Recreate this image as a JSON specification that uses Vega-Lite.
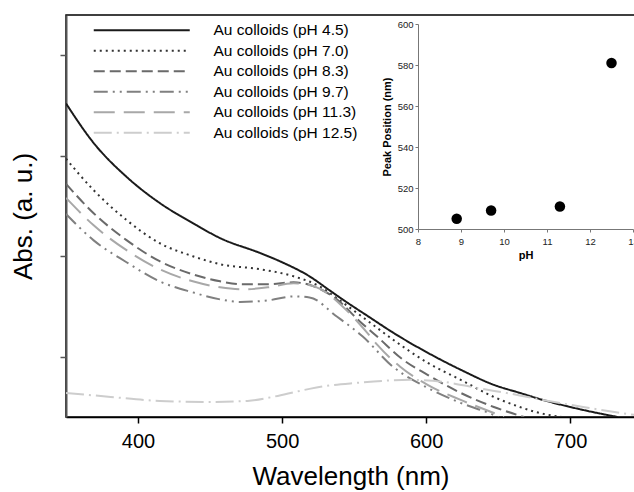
{
  "$schema": "https://vega.github.io/schema/vega-lite/v6.json",
  "width": 569,
  "height": 402,
  "autosize": {"type": "none"},
  "padding": {"left": 66, "top": 15, "right": 0, "bottom": 75},
  "background": "white",
  "config": {
    "font": "Liberation Sans",
    "view": {"stroke": "#000", "strokeWidth": 1.5}
  },
  "datasets": {
    "spectra": [
      {"s": "Au colloids (pH 4.5)", "w": 350, "a": 2.52},
      {"s": "Au colloids (pH 4.5)", "w": 369, "a": 2.13},
      {"s": "Au colloids (pH 4.5)", "w": 392, "a": 1.79},
      {"s": "Au colloids (pH 4.5)", "w": 415, "a": 1.53},
      {"s": "Au colloids (pH 4.5)", "w": 438, "a": 1.33},
      {"s": "Au colloids (pH 4.5)", "w": 457, "a": 1.18},
      {"s": "Au colloids (pH 4.5)", "w": 485, "a": 1.03},
      {"s": "Au colloids (pH 4.5)", "w": 500, "a": 0.94},
      {"s": "Au colloids (pH 4.5)", "w": 519, "a": 0.8},
      {"s": "Au colloids (pH 4.5)", "w": 533, "a": 0.66},
      {"s": "Au colloids (pH 4.5)", "w": 542, "a": 0.57},
      {"s": "Au colloids (pH 4.5)", "w": 561, "a": 0.39},
      {"s": "Au colloids (pH 4.5)", "w": 577, "a": 0.24},
      {"s": "Au colloids (pH 4.5)", "w": 601, "a": 0.04},
      {"s": "Au colloids (pH 4.5)", "w": 624, "a": -0.13},
      {"s": "Au colloids (pH 4.5)", "w": 647, "a": -0.28},
      {"s": "Au colloids (pH 4.5)", "w": 665, "a": -0.36},
      {"s": "Au colloids (pH 4.5)", "w": 681, "a": -0.43},
      {"s": "Au colloids (pH 4.5)", "w": 709, "a": -0.53},
      {"s": "Au colloids (pH 4.5)", "w": 733, "a": -0.6},
      {"s": "Au colloids (pH 7.0)", "w": 350, "a": 1.97},
      {"s": "Au colloids (pH 7.0)", "w": 369, "a": 1.66},
      {"s": "Au colloids (pH 7.0)", "w": 392, "a": 1.36},
      {"s": "Au colloids (pH 7.0)", "w": 415, "a": 1.13},
      {"s": "Au colloids (pH 7.0)", "w": 438, "a": 1.0},
      {"s": "Au colloids (pH 7.0)", "w": 457, "a": 0.92},
      {"s": "Au colloids (pH 7.0)", "w": 485, "a": 0.87},
      {"s": "Au colloids (pH 7.0)", "w": 508, "a": 0.8},
      {"s": "Au colloids (pH 7.0)", "w": 526, "a": 0.7},
      {"s": "Au colloids (pH 7.0)", "w": 542, "a": 0.54},
      {"s": "Au colloids (pH 7.0)", "w": 561, "a": 0.34},
      {"s": "Au colloids (pH 7.0)", "w": 577, "a": 0.17},
      {"s": "Au colloids (pH 7.0)", "w": 601, "a": -0.06},
      {"s": "Au colloids (pH 7.0)", "w": 624, "a": -0.23},
      {"s": "Au colloids (pH 7.0)", "w": 647, "a": -0.4},
      {"s": "Au colloids (pH 7.0)", "w": 665, "a": -0.5},
      {"s": "Au colloids (pH 7.0)", "w": 676, "a": -0.55},
      {"s": "Au colloids (pH 7.0)", "w": 694, "a": -0.6},
      {"s": "Au colloids (pH 8.3)", "w": 350, "a": 1.72},
      {"s": "Au colloids (pH 8.3)", "w": 369, "a": 1.43},
      {"s": "Au colloids (pH 8.3)", "w": 392, "a": 1.16},
      {"s": "Au colloids (pH 8.3)", "w": 415, "a": 0.95},
      {"s": "Au colloids (pH 8.3)", "w": 438, "a": 0.82},
      {"s": "Au colloids (pH 8.3)", "w": 457, "a": 0.75},
      {"s": "Au colloids (pH 8.3)", "w": 473, "a": 0.72},
      {"s": "Au colloids (pH 8.3)", "w": 490, "a": 0.72},
      {"s": "Au colloids (pH 8.3)", "w": 508, "a": 0.74},
      {"s": "Au colloids (pH 8.3)", "w": 522, "a": 0.7},
      {"s": "Au colloids (pH 8.3)", "w": 538, "a": 0.57},
      {"s": "Au colloids (pH 8.3)", "w": 554, "a": 0.35},
      {"s": "Au colloids (pH 8.3)", "w": 566, "a": 0.2},
      {"s": "Au colloids (pH 8.3)", "w": 584, "a": -0.03},
      {"s": "Au colloids (pH 8.3)", "w": 601, "a": -0.18},
      {"s": "Au colloids (pH 8.3)", "w": 624, "a": -0.36},
      {"s": "Au colloids (pH 8.3)", "w": 647, "a": -0.5},
      {"s": "Au colloids (pH 8.3)", "w": 668, "a": -0.6},
      {"s": "Au colloids (pH 9.7)", "w": 350, "a": 1.42},
      {"s": "Au colloids (pH 9.7)", "w": 369, "a": 1.16},
      {"s": "Au colloids (pH 9.7)", "w": 392, "a": 0.94},
      {"s": "Au colloids (pH 9.7)", "w": 415, "a": 0.75},
      {"s": "Au colloids (pH 9.7)", "w": 438, "a": 0.64},
      {"s": "Au colloids (pH 9.7)", "w": 457, "a": 0.57},
      {"s": "Au colloids (pH 9.7)", "w": 471, "a": 0.545},
      {"s": "Au colloids (pH 9.7)", "w": 490, "a": 0.56},
      {"s": "Au colloids (pH 9.7)", "w": 508, "a": 0.6},
      {"s": "Au colloids (pH 9.7)", "w": 519, "a": 0.59},
      {"s": "Au colloids (pH 9.7)", "w": 538, "a": 0.4},
      {"s": "Au colloids (pH 9.7)", "w": 556, "a": 0.2},
      {"s": "Au colloids (pH 9.7)", "w": 577, "a": -0.1},
      {"s": "Au colloids (pH 9.7)", "w": 601, "a": -0.31},
      {"s": "Au colloids (pH 9.7)", "w": 624, "a": -0.46},
      {"s": "Au colloids (pH 9.7)", "w": 647, "a": -0.58},
      {"s": "Au colloids (pH 9.7)", "w": 650, "a": -0.6},
      {"s": "Au colloids (pH 11.3)", "w": 350, "a": 1.58},
      {"s": "Au colloids (pH 11.3)", "w": 369, "a": 1.31},
      {"s": "Au colloids (pH 11.3)", "w": 392, "a": 1.06},
      {"s": "Au colloids (pH 11.3)", "w": 415, "a": 0.87},
      {"s": "Au colloids (pH 11.3)", "w": 438, "a": 0.75},
      {"s": "Au colloids (pH 11.3)", "w": 457, "a": 0.69},
      {"s": "Au colloids (pH 11.3)", "w": 473, "a": 0.67},
      {"s": "Au colloids (pH 11.3)", "w": 490, "a": 0.69},
      {"s": "Au colloids (pH 11.3)", "w": 508, "a": 0.73},
      {"s": "Au colloids (pH 11.3)", "w": 524, "a": 0.69},
      {"s": "Au colloids (pH 11.3)", "w": 542, "a": 0.5},
      {"s": "Au colloids (pH 11.3)", "w": 559, "a": 0.24},
      {"s": "Au colloids (pH 11.3)", "w": 566, "a": 0.12},
      {"s": "Au colloids (pH 11.3)", "w": 582, "a": -0.1},
      {"s": "Au colloids (pH 11.3)", "w": 601, "a": -0.28},
      {"s": "Au colloids (pH 11.3)", "w": 624, "a": -0.43},
      {"s": "Au colloids (pH 11.3)", "w": 647, "a": -0.56},
      {"s": "Au colloids (pH 11.3)", "w": 654, "a": -0.6},
      {"s": "Au colloids (pH 12.5)", "w": 350, "a": -0.36},
      {"s": "Au colloids (pH 12.5)", "w": 381, "a": -0.4},
      {"s": "Au colloids (pH 12.5)", "w": 415, "a": -0.44},
      {"s": "Au colloids (pH 12.5)", "w": 450, "a": -0.45},
      {"s": "Au colloids (pH 12.5)", "w": 476, "a": -0.44},
      {"s": "Au colloids (pH 12.5)", "w": 497, "a": -0.39},
      {"s": "Au colloids (pH 12.5)", "w": 519, "a": -0.32},
      {"s": "Au colloids (pH 12.5)", "w": 531, "a": -0.29},
      {"s": "Au colloids (pH 12.5)", "w": 552, "a": -0.26},
      {"s": "Au colloids (pH 12.5)", "w": 570, "a": -0.24},
      {"s": "Au colloids (pH 12.5)", "w": 589, "a": -0.23},
      {"s": "Au colloids (pH 12.5)", "w": 612, "a": -0.25},
      {"s": "Au colloids (pH 12.5)", "w": 635, "a": -0.31},
      {"s": "Au colloids (pH 12.5)", "w": 665, "a": -0.385},
      {"s": "Au colloids (pH 12.5)", "w": 681, "a": -0.43},
      {"s": "Au colloids (pH 12.5)", "w": 709, "a": -0.5},
      {"s": "Au colloids (pH 12.5)", "w": 733, "a": -0.555},
      {"s": "Au colloids (pH 12.5)", "w": 745, "a": -0.58}
    ],
    "peaks": [
      {"ph": 8.9, "peak": 505},
      {"ph": 9.7, "peak": 509},
      {"ph": 11.3, "peak": 511},
      {"ph": 12.5, "peak": 581}
    ]
  },
  "layer": [
    {
      "data": {"name": "spectra"},
      "mark": {"type": "line", "strokeWidth": 2, "clip": true, "interpolate": "monotone"},
      "encoding": {
        "x": {
          "field": "w", "type": "quantitative",
          "scale": {"domain": [350, 745], "nice": false, "zero": false},
          "axis": {
            "values": [400, 500, 600, 700], "title": "Wavelength (nm)",
            "titleFontSize": 26, "titleFontWeight": "normal", "titleColor": "#000",
            "labelFontSize": 20, "labelColor": "#000", "labelFlush": false,
            "tickSize": 6, "tickColor": "#000", "tickWidth": 1.5,
            "domainColor": "#000", "domainWidth": 1.5,
            "labelPadding": 8, "titlePadding": 12, "grid": false
          }
        },
        "y": {
          "field": "a", "type": "quantitative",
          "scale": {"domain": [-0.6, 3.4], "nice": false, "zero": false},
          "axis": {
            "values": [0, 1, 2, 3], "labels": false, "title": "Abs. (a. u.)",
            "titleFontSize": 26, "titleFontWeight": "normal", "titleColor": "#000",
            "tickSize": 6, "tickColor": "#555", "tickWidth": 1.5,
            "domainColor": "#555", "domainWidth": 2,
            "titlePadding": 23, "grid": false
          }
        },
        "color": {
          "field": "s", "type": "nominal",
          "scale": {
            "domain": ["Au colloids (pH 4.5)", "Au colloids (pH 7.0)", "Au colloids (pH 8.3)", "Au colloids (pH 9.7)", "Au colloids (pH 11.3)", "Au colloids (pH 12.5)"],
            "range": ["#1a1a1a", "#333333", "#6a6a6a", "#808080", "#a8a8a8", "#cdcdcd"]
          },
          "legend": {
            "title": null, "orient": "none", "legendX": 68, "legendY": 7.5,
            "symbolType": "M-16,0H16", "symbolSize": 36, "symbolStrokeWidth": 2,
            "labelFontSize": 15.5, "labelColor": "#000", "labelOffset": 64,
            "rowPadding": 3.5, "padding": 0
          }
        },
        "strokeDash": {
          "field": "s", "type": "nominal",
          "scale": {
            "domain": ["Au colloids (pH 4.5)", "Au colloids (pH 7.0)", "Au colloids (pH 8.3)", "Au colloids (pH 9.7)", "Au colloids (pH 11.3)", "Au colloids (pH 12.5)"],
            "range": [[1, 0], [2, 4], [11, 5], [14, 5, 2, 5, 2, 5], [21, 9], [18, 5, 2, 5]]
          },
          "legend": {
            "title": null, "orient": "none", "legendX": 68, "legendY": 7.5,
            "symbolType": "M-16,0H16", "symbolSize": 36, "symbolStrokeWidth": 2,
            "labelFontSize": 15.5, "labelColor": "#000", "labelOffset": 64,
            "rowPadding": 3.5, "padding": 0
          }
        }
      }
    },
    {
      "data": {"name": "peaks"},
      "mark": {"type": "circle", "size": 110, "color": "#000", "opacity": 1},
      "encoding": {
        "x": {
          "field": "ph", "type": "quantitative",
          "scale": {"domain": [8, 13], "range": [352, 567], "nice": false, "zero": false},
          "axis": {
            "orient": "bottom", "offset": -188, "values": [8, 9, 10, 11, 12, 13],
            "title": "pH", "titleFontSize": 11, "titleFontWeight": "bold", "titleColor": "#000",
            "labelFontSize": 9.5, "labelColor": "#222", "labelFlush": false,
            "tickSize": 3, "tickColor": "#777", "domainColor": "#777",
            "labelPadding": 4, "titlePadding": 4, "grid": false
          }
        },
        "y": {
          "field": "peak", "type": "quantitative",
          "scale": {"domain": [500, 600], "range": [214, 9], "nice": false, "zero": false},
          "axis": {
            "orient": "left", "offset": -352, "values": [500, 520, 540, 560, 580, 600],
            "title": "Peak Position (nm)", "titleFontSize": 11, "titleFontWeight": "bold", "titleColor": "#000",
            "labelFontSize": 9.5, "labelColor": "#222", "labelFlush": false,
            "tickSize": 3, "tickColor": "#777", "domainColor": "#777",
            "labelPadding": 2, "titlePadding": 5, "grid": false
          }
        }
      }
    }
  ],
  "resolve": {"scale": {"x": "independent", "y": "independent"}, "axis": {"x": "independent", "y": "independent"}}
}
